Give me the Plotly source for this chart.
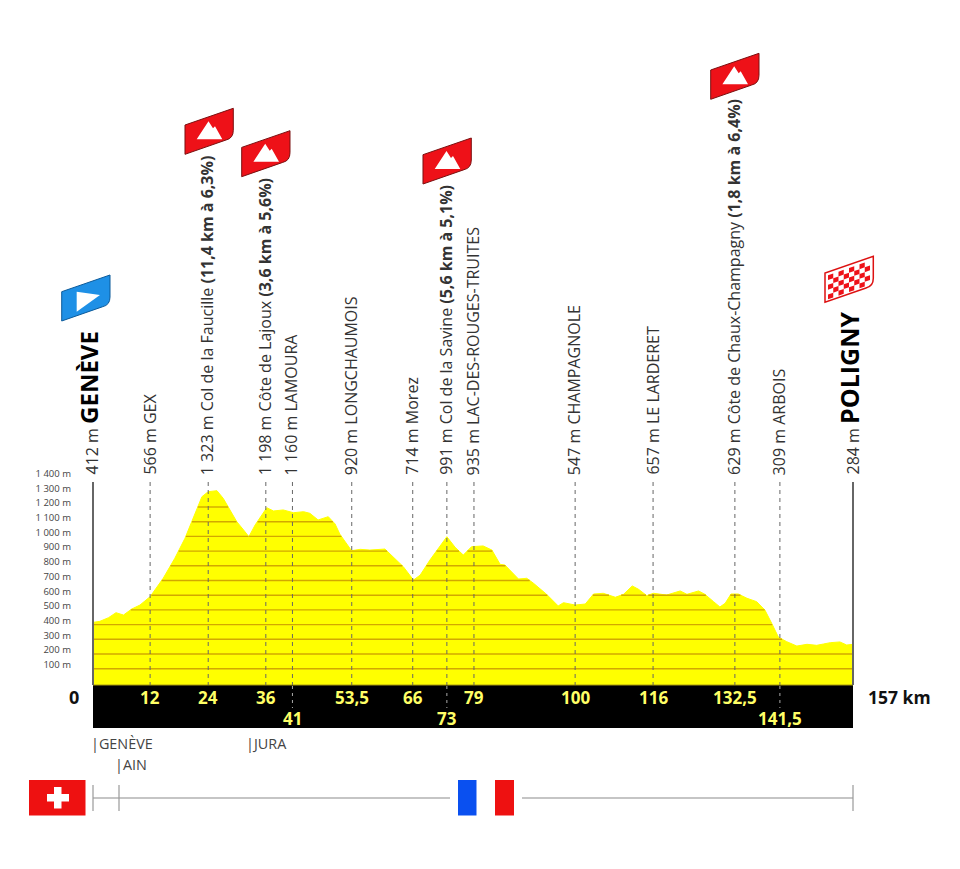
import numpy as np
import plotly.graph_objects as go

# ---- data ----
km = [0,1.4,3.2,4.75,6.3,8.0,9.7,11.8,14.5,16.9,19,20.7,22.5,23.8,25.6,26.9,28.3,29.7,31.1,32.2,33.5,34.9,35.9,37.3,39.3,41.4,43.5,44.8,46.5,48.6,50,51,53.4,55.2,57.2,60.3,62,64.1,66.2,67.6,69.6,73.1,74.8,76.5,78.2,80.6,82.4,84.1,85.1,87.9,89.6,91,93.7,96.1,97.2,99.6,101.7,103.4,105.4,107.9,109.6,111.4,112.7,114.4,115.8,118.5,121.3,122.7,125.1,126.4,128.2,129.5,130.6,131.8,133.3,135.1,137.1,138.8,140.2,141.6,143.3,145.4,147.5,149.5,150.9,152.3,154.3,155.7,157]
elevation = [415,422,447,481,465,506,533,590,715,851,987,1123,1270,1304,1311,1259,1180,1100,1044,998,1078,1146,1195,1173,1180,1161,1168,1157,1112,1134,1085,1015,903,912,907,914,862,794,703,737,839,998,926,873,930,935,907,810,805,710,715,681,606,527,549,533,540,608,613,586,606,663,640,597,613,601,629,606,629,606,556,520,545,608,608,579,556,499,409,314,284,254,266,259,268,277,282,261,266]

grid_levels = [100,200,300,400,500,600,700,800,900,1000,1100,1200]
tick_values = [100,200,300,400,500,600,700,800,900,1000,1100,1200,1300,1400]
tick_labels = ["100 m","200 m","300 m","400 m","500 m","600 m","700 m","800 m","900 m","1 000 m","1 100 m","1 200 m","1 300 m","1 400 m"]

place_km = [0,11.8,23.8,35.7,41.2,53.45,66.05,73.1,78.7,99.6,115.7,132.6,141.9,157]
place_text = [
    "412 m <span style='font-size:24px;color:#000'><b>GENÈVE</b></span>",
    "566 m GEX",
    "1 323 m Col de la Faucille <b>(11,4 km à 6,3%)</b>",
    "1 198 m Côte de Lajoux <b>(3,6 km à 5,6%)</b>",
    "1 160 m LAMOURA",
    "920 m LONGCHAUMOIS",
    "714 m Morez",
    "991 m Col de la Savine <b>(5,6 km à 5,1%)</b>",
    "935 m LAC-DES-ROUGES-TRUITES",
    "547 m CHAMPAGNOLE",
    "657 m LE LARDERET",
    "629 m Côte de Chaux-Champagny <b>(1,8 km à 6,4%)</b>",
    "309 m ARBOIS",
    "284 m <span style='font-size:25px;color:#000'><b>POLIGNY</b></span>",
]
upper_km = [11.8,23.8,35.7,53.45,66.05,78.7,99.6,115.7,132.6]
upper_labels = ["12","24","36","53,5","66","79","100","116","132,5"]
lower_km = [41.2,73.1,141.9]
lower_labels = ["41","73","141,5"]

# ---- page geometry ----
W, H = 960, 869
L, R, T, B = 93, 853, 470, 685
SCALE = 0.147  # px per metre
Y_TOP = (683.4 - T) / SCALE
Y_BOT = (683.4 - B) / SCALE
def fx(p): return (p - L) / (R - L)
def fy(p): return (B - p) / (B - T)
def P(pts, close=True):
    s = "M" + " L".join(f"{fx(a):.5f},{fy(b):.5f}" for a, b in pts)
    return s + (" Z" if close else "")

shapes, ann = [], []
def rect(x0, y0, x1, y1, color, layer="above"):
    shapes.append(dict(type="rect", xref="paper", yref="paper", x0=fx(x0), x1=fx(x1), y0=fy(y1), y1=fy(y0),
                       fillcolor=color, line_width=0, layer=layer))
def seg(x0, y0, x1, y1, color, w=1, dash="solid"):
    shapes.append(dict(type="line", xref="paper", yref="paper", x0=fx(x0), x1=fx(x1), y0=fy(y0), y1=fy(y1),
                       line=dict(color=color, width=w, dash=dash), layer="above"))

fig = go.Figure()
fig.add_trace(go.Scatter(x=km, y=elevation, mode="lines", fill="tozeroy", fillcolor="#ffff00",
                         line=dict(color="#ffff00", width=1), hoverinfo="skip", showlegend=False))
dense = np.linspace(0, 157, 3141)
prof = np.interp(dense, km, elevation)
for lv in grid_levels:
    yy = np.where(prof >= lv, float(lv), np.nan)
    fig.add_trace(go.Scatter(x=dense, y=yy, mode="lines", line=dict(color="#d2a800", width=1.4),
                             hoverinfo="skip", showlegend=False))

# yellow foot under elevation zero, black distance band
rect(L, 683, R, 685, "#ffff00", "below")
rect(L, 685, R, 728, "#000000")
seg(L, 685, R, 685, "#a89a10", 1)

# vertical guides
for k in place_km:
    x = L + k * (R - L) / 157
    if k in (0, 157):
        seg(x, 482, x, 685, "#666666", 2)
    else:
        seg(x, 482, x, 685, "#666666", 1, "4px,4px")
for k in lower_km:
    x = L + k * (R - L) / 157
    seg(x, 686, x, 708, "#aaaaaa", 1, "3px,4px")

FONT = "Open Sans"
for k, t in zip(place_km, place_text):
    shift = -5 if k in (0, 157) else -1
    ann.append(dict(x=k, xref="x", xshift=shift, y=fy(477), yref="paper", text=t, textangle=-90, showarrow=False,
                    xanchor="center", yanchor="bottom", font=dict(family=FONT, size=16, color="#333333")))
for k, t in zip(upper_km, upper_labels):
    ann.append(dict(x=k, xref="x", y=fy(697), yref="paper", text=f"<b>{t}</b>", showarrow=False,
                    xanchor="center", yanchor="middle", font=dict(family=FONT, size=17, color="#ffff66")))
for k, t in zip(lower_km, lower_labels):
    ann.append(dict(x=k, xref="x", y=fy(718), yref="paper", text=f"<b>{t}</b>", showarrow=False,
                    xanchor="center", yanchor="middle", font=dict(family=FONT, size=17, color="#ffff66")))
ann.append(dict(x=fx(74), xref="paper", y=fy(697), yref="paper", text="<b>0</b>", showarrow=False,
                xanchor="center", yanchor="middle", font=dict(family=FONT, size=18, color="#111111")))
ann.append(dict(x=fx(866), xref="paper", y=fy(697), yref="paper", text="<b>157 km</b>", showarrow=False,
                xanchor="left", yanchor="middle", font=dict(family=FONT, size=17.5, color="#111111")))
for x, y, t in [(89, 743, "|GENÈVE"), (113, 764, "|AIN"), (244, 743, "|JURA")]:
    ann.append(dict(x=fx(x), xref="paper", y=fy(y), yref="paper", text=t, showarrow=False,
                    xanchor="left", yanchor="middle", font=dict(family=FONT, size=14.4, color="#444444")))

# frontier strip
seg(93, 798, 450, 798, "#8c8c8c", 1.2)
seg(522, 798, 853, 798, "#8c8c8c", 1.2)
for x in (93, 119, 853):
    seg(x, 785, x, 811, "#999999", 1.2)
rect(29, 780, 85.5, 815.5, "#ee1111")
rect(47, 794, 69, 801.5, "#ffffff")
rect(54, 787, 61.5, 808.5, "#ffffff")
rect(458, 780, 476.5, 815.5, "#0a50f0")
rect(495, 780, 514, 815.5, "#ee1111")

# flag pictograms
def flag(bx, by, color):
    a = lambda u, v: f"{fx(bx+u):.5f},{fy(by+v):.5f}"
    path = (f"M{a(0,0)} L{a(0,-29.3)} L{a(48.3,-46)} L{a(48.3,-24)} "
            f"Q{a(48.3,-16)} {a(41,-14.3)} Z")
    shapes.append(dict(type="path", xref="paper", yref="paper", path=path, fillcolor=color,
                       line=dict(color="#7a1010" if color != "#1e90e6" else "#0b5a9a", width=1), layer="above"))
def poly(bx, by, pts, color="#ffffff"):
    shapes.append(dict(type="path", xref="paper", yref="paper",
                       path=P([(bx+u, by+v) for u, v in pts]), fillcolor=color, line_width=0, layer="above"))
MOUNT = [(11.7,-15),(23.5,-33),(28,-26),(30,-28),(37.3,-15)]
for bx, by in [(185,154.3),(241.7,176.7),(423,184),(710.7,99.3)]:
    flag(bx, by, "#ee1118")
    poly(bx, by, MOUNT)
flag(61.7, 321, "#1e90e6")
poly(61.7, 321, [(15,-29.3),(38.3,-26),(15,-9.3)])
fbx, fby = 825, 302.3
flag(fbx, fby, "#ffffff")
shapes[-1]["line"] = dict(color="#dd1111", width=1.5)
NU, NV = 8, 5
for i in range(NU):
    for j in range(NV):
        if (i + j) % 2 == 0:
            u0, u1 = 3 + i * 42 / NU, 3 + (i + 1) * 42 / NU
            v0, v1 = 2 + j * 24 / NV, 2 + (j + 1) * 24 / NV
            c = lambda u, v: (u, -v - u * 16.7 / 48.3)
            if i == NU - 1 and j == 0:
                continue
            poly(fbx, fby, [c(u0, v0), c(u1, v0), c(u1, v1), c(u0, v1)], "#ee1118")

fig.update_layout(
    width=W, height=H, margin=dict(l=L, r=W - R, t=T, b=H - B, autoexpand=False),
    paper_bgcolor="#ffffff", plot_bgcolor="rgba(0,0,0,0)", showlegend=False,
    xaxis=dict(range=[0, 157], visible=False, fixedrange=True),
    yaxis=dict(range=[Y_BOT, Y_TOP], tickmode="array", tickvals=tick_values, ticktext=tick_labels,
               showgrid=False, zeroline=False, showline=False, ticks="", fixedrange=True,
               ticklabelstandoff=21, ticklabelshift=-4,
               tickfont=dict(family=FONT, size=9.5, color="#444444")),
    shapes=shapes, annotations=ann,
)
fig.write_html("out.html", post_script="document.body.style.margin='0';", config={"displayModeBar": False})
